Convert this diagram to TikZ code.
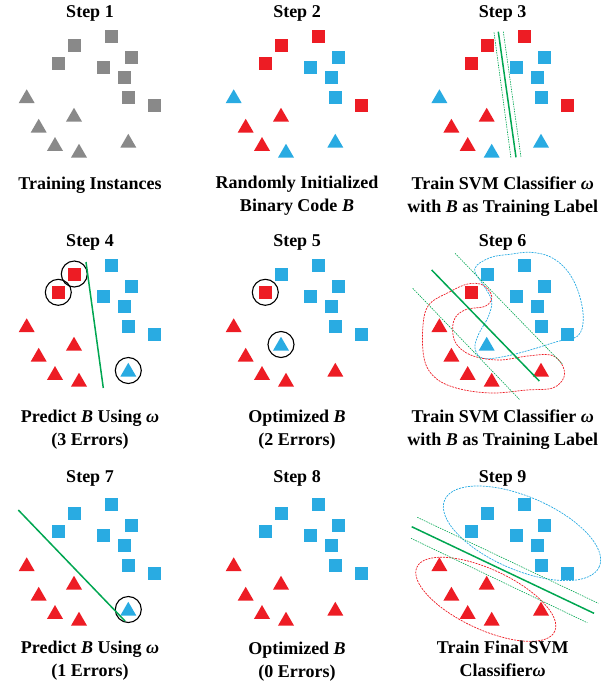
\documentclass[tikz,border=0pt]{standalone}
\usepackage{fontspec}
\setmainfont{Liberation Serif}
\usetikzlibrary{shapes.geometric}
\definecolor{ptred}{RGB}{237,28,36}
\definecolor{ptblue}{RGB}{41,171,226}
\definecolor{ptgray}{RGB}{137,137,137}
\definecolor{svmgreen}{RGB}{0,166,81}
\tikzset{>=latex}
\tikzstyle{sq}=[rectangle,minimum size=13pt,inner sep=0pt]
\tikzstyle{tri}=[regular polygon,regular polygon sides=3,minimum size=18.5pt,inner sep=0pt]
\tikzstyle{errc}=[circle,draw=black,line width=1.1pt,minimum size=26pt,inner sep=0pt]
\tikzstyle{stepname}=[anchor=base,font=\bfseries\fontsize{18}{23}\selectfont]
% base anchor of a two-line caption sits on its last line
\tikzstyle{capt}=[anchor=base,align=center,font=\bfseries\fontsize{18}{23}\selectfont]
\tikzstyle{svm}=[draw=svmgreen,line width=1.5pt]
\tikzstyle{svmmargin}=[draw=svmgreen,line width=0.6pt,dash pattern=on 1.5pt off 1pt]
\tikzstyle{blob}=[line width=0.7pt,dash pattern=on 2pt off 1pt]

\begin{document}
\begin{tikzpicture}[x=1pt,y=-1pt]
	\useasboundingbox (0,0) rectangle (616,683);

	% step 1
	\begin{scope}[shift={(0,0)},name prefix=p1-]
		\node[stepname] (title) at (90,17.3) {Step 1};
		\foreach \n/\x/\y/\c in {s1/74.3/45/ptgray, s2/111.3/36/ptgray, s3/58.3/63.3/ptgray, s4/103.3/67.3/ptgray,
			s5/131.3/57.3/ptgray, s6/124.3/77.3/ptgray, s7/128.3/97.3/ptgray, s8/154.3/105.3/ptgray}
			\node[sq,fill=\c] (\n) at (\x,\y) {};
		\foreach \n/\x/\y/\c in {t1/26.7/98.5/ptgray, t2/74/117/ptgray, t3/38.7/128/ptgray,
			t4/55/146.3/ptgray, t5/79/153/ptgray, t6/128.3/143/ptgray}
			\node[tri,fill=\c] (\n) at (\x,\y) {};
		\node[capt] (caption) at (90,189) {Training Instances};
	\end{scope}

	% step 2
	\begin{scope}[shift={(207,0)},name prefix=p2-]
		\node[stepname] (title) at (90,17.3) {Step 2};
		\foreach \n/\x/\y/\c in {s1/74.3/45/ptred, s2/111.3/36/ptred, s3/58.3/63.3/ptred, s4/103.3/67.3/ptblue,
			s5/131.3/57.3/ptblue, s6/124.3/77.3/ptblue, s7/128.3/97.3/ptblue, s8/154.3/105.3/ptred}
			\node[sq,fill=\c] (\n) at (\x,\y) {};
		\foreach \n/\x/\y/\c in {t1/26.7/98.5/ptblue, t2/74/117/ptred, t3/38.7/128/ptred,
			t4/55/146.3/ptred, t5/79/153/ptblue, t6/128.3/143/ptblue}
			\node[tri,fill=\c] (\n) at (\x,\y) {};
		\node[capt] (caption) at (90,211.5) {Randomly Initialized\\Binary Code \textit{B}};
	\end{scope}

	% step 3
	\begin{scope}[shift={(412.7,0)},name prefix=p3-]
		\node[stepname] (title) at (90,17.3) {Step 3};
		\foreach \n/\x/\y/\c in {s1/74.3/45/ptred, s2/111.3/36/ptred, s3/58.3/63.3/ptred, s4/103.3/67.3/ptblue,
			s5/131.3/57.3/ptblue, s6/124.3/77.3/ptblue, s7/128.3/97.3/ptblue, s8/154.3/105.3/ptred}
			\node[sq,fill=\c] (\n) at (\x,\y) {};
		\foreach \n/\x/\y/\c in {t1/26.7/98.5/ptblue, t2/74/117/ptred, t3/38.7/128/ptred,
			t4/55/146.3/ptred, t5/79/153/ptblue, t6/128.3/143/ptblue}
			\node[tri,fill=\c] (\n) at (\x,\y) {};
		\draw[svmmargin] (81.3,32.3) -- (98.3,158.3);
		\draw[svmmargin] (90.6,31.7) -- (108.3,157.3);
		\draw[svm] (85.6,31.7) -- (103.3,157.3);
		\node[capt] (caption) at (90,212) {Train SVM Classifier \textit{ω}\\with \textit{B} as Training Label};
	\end{scope}

	% step 4
	\begin{scope}[shift={(0,229)},name prefix=p4-]
		\node[stepname] (title) at (90,17.3) {Step 4};
		\foreach \n/\x/\y/\c in {s1/74.3/45/ptred, s2/111.3/36/ptblue, s3/58.3/63.3/ptred, s4/103.3/67.3/ptblue,
			s5/131.3/57.3/ptblue, s6/124.3/77.3/ptblue, s7/128.3/97.3/ptblue, s8/154.3/105.3/ptblue}
			\node[sq,fill=\c] (\n) at (\x,\y) {};
		\foreach \n/\x/\y/\c in {t1/26.7/98.5/ptred, t2/74/117/ptred, t3/38.7/128/ptred,
			t4/55/146.3/ptred, t5/79/153/ptred, t6/128.3/143/ptblue}
			\node[tri,fill=\c] (\n) at (\x,\y) {};
		\node[errc] (e1) at (s1) {};
		\node[errc] (e2) at (s3) {};
		\node[errc] (e3) at ([yshift=1.5pt]t6) {};
		\draw[svm] (86,33) -- (103.3,159);
		\node[capt] (caption) at (90,216) {Predict \textit{B} Using \textit{ω}\\(3 Errors)};
	\end{scope}

	% step 5
	\begin{scope}[shift={(207,229)},name prefix=p5-]
		\node[stepname] (title) at (90,17.3) {Step 5};
		\foreach \n/\x/\y/\c in {s1/74.3/45/ptblue, s2/111.3/36/ptblue, s3/58.3/63.3/ptred, s4/103.3/67.3/ptblue,
			s5/131.3/57.3/ptblue, s6/124.3/77.3/ptblue, s7/128.3/97.3/ptblue, s8/154.3/105.3/ptblue}
			\node[sq,fill=\c] (\n) at (\x,\y) {};
		\foreach \n/\x/\y/\c in {t1/26.7/98.5/ptred, t2/74/117/ptblue, t3/38.7/128/ptred,
			t4/55/146.3/ptred, t5/79/153/ptred, t6/128.3/143/ptred}
			\node[tri,fill=\c] (\n) at (\x,\y) {};
		\node[errc] (e1) at (s3) {};
		\node[errc] (e2) at ([yshift=1.5pt]t2) {};
		\node[capt] (caption) at (90,216) {Optimized \textit{B}\\(2 Errors)};
	\end{scope}

	% step 6
	\begin{scope}[shift={(412.7,229)},name prefix=p6-]
		\node[stepname] (title) at (90,17.3) {Step 6};
		\foreach \n/\x/\y/\c in {s1/74.3/45/ptblue, s2/111.3/36/ptblue, s3/58.3/63.3/ptred, s4/103.3/67.3/ptblue,
			s5/131.3/57.3/ptblue, s6/124.3/77.3/ptblue, s7/128.3/97.3/ptblue, s8/154.3/105.3/ptblue}
			\node[sq,fill=\c] (\n) at (\x,\y) {};
		\foreach \n/\x/\y/\c in {t1/26.7/98.5/ptred, t2/74/117/ptblue, t3/38.7/128/ptred,
			t4/55/146.3/ptred, t5/79/153/ptred, t6/128.3/143/ptred}
			\node[tri,fill=\c] (\n) at (\x,\y) {};
		\draw[blob,draw=ptblue] plot[smooth cycle,tension=0.6] coordinates {(62,40) (77.3,28.7) (97.3,25.3) (117.3,23.3)
			(137.3,27.7) (154,41) (165.6,62.7) (170.6,89.3) (165,107) (144,112.7) (117.3,121) (90.6,127.7)
			(70,129.3) (62.3,119.3) (66,105) (75.6,87.7) (79,72) (72,58)};
		\draw[blob,draw=ptred] plot[smooth cycle,tension=0.6] coordinates {(16,76) (37.3,62.7) (55,55) (70,56)
			(79,67) (73,77) (52,81) (41,92) (42.3,112.7) (58,126) (85.6,131) (115,127) (138,126) (149,135)
			(151.3,148) (140,159) (114,161) (80,164) (47.3,160) (24,150) (12,132) (10,100)};
		\draw[svmmargin] (42.3,24.3) -- (150,135.3);
		\draw[svmmargin] (0,59.3) -- (107.3,171);
		\draw[svm] (19,41) -- (126.6,152);
		\node[capt] (caption) at (90,216) {Train SVM Classifier \textit{ω}\\with \textit{B} as Training Label};
	\end{scope}

	% step 7
	\begin{scope}[shift={(0,468)},name prefix=p7-]
		\node[stepname] (title) at (90,14.7) {Step 7};
		\foreach \n/\x/\y/\c in {s1/74.3/45/ptblue, s2/111.3/36/ptblue, s3/58.3/63.3/ptblue, s4/103.3/67.3/ptblue,
			s5/131.3/57.3/ptblue, s6/124.3/77.3/ptblue, s7/128.3/97.3/ptblue, s8/154.3/105.3/ptblue}
			\node[sq,fill=\c] (\n) at (\x,\y) {};
		\foreach \n/\x/\y/\c in {t1/26.7/98.5/ptred, t2/74/117/ptred, t3/38.7/128/ptred,
			t4/55/146.3/ptred, t5/79/153/ptred, t6/128.3/143/ptblue}
			\node[tri,fill=\c] (\n) at (\x,\y) {};
		\node[errc] (e1) at ([yshift=1.5pt]t6) {};
		\draw[svm] (18.3,42) -- (125,153);
		\node[capt] (caption) at (90,208.5) {Predict \textit{B} Using \textit{ω}\\(1 Errors)};
	\end{scope}

	% step 8
	\begin{scope}[shift={(207,468)},name prefix=p8-]
		\node[stepname] (title) at (90,14.7) {Step 8};
		\foreach \n/\x/\y/\c in {s1/74.3/45/ptblue, s2/111.3/36/ptblue, s3/58.3/63.3/ptblue, s4/103.3/67.3/ptblue,
			s5/131.3/57.3/ptblue, s6/124.3/77.3/ptblue, s7/128.3/97.3/ptblue, s8/154.3/105.3/ptblue}
			\node[sq,fill=\c] (\n) at (\x,\y) {};
		\foreach \n/\x/\y/\c in {t1/26.7/98.5/ptred, t2/74/117/ptred, t3/38.7/128/ptred,
			t4/55/146.3/ptred, t5/79/153/ptred, t6/128.3/143/ptred}
			\node[tri,fill=\c] (\n) at (\x,\y) {};
		\node[capt] (caption) at (90,209) {Optimized \textit{B}\\(0 Errors)};
	\end{scope}

	% step 9
	\begin{scope}[shift={(412.7,468)},name prefix=p9-]
		\node[stepname] (title) at (90,14.7) {Step 9};
		\foreach \n/\x/\y/\c in {s1/74.3/45/ptblue, s2/111.3/36/ptblue, s3/58.3/63.3/ptblue, s4/103.3/67.3/ptblue,
			s5/131.3/57.3/ptblue, s6/124.3/77.3/ptblue, s7/128.3/97.3/ptblue, s8/154.3/105.3/ptblue}
			\node[sq,fill=\c] (\n) at (\x,\y) {};
		\foreach \n/\x/\y/\c in {t1/26.7/98.5/ptred, t2/74/117/ptred, t3/38.7/128/ptred,
			t4/55/146.3/ptred, t5/79/153/ptred, t6/128.3/143/ptred}
			\node[tri,fill=\c] (\n) at (\x,\y) {};
		\draw[blob,draw=ptblue,rotate around={-23.3:(109.3,65.3)}] (109.3,65.3) ellipse (84.2 and 36.6);
		\draw[blob,draw=ptred,rotate around={-25:(73.1,131.3)}] (73.1,131.3) ellipse (76 and 30);
		\draw[svmmargin] (4.6,49.3) -- (185.6,135.3);
		\draw[svmmargin] (-1.7,70.3) -- (174.6,154.7);
		\draw[svm] (-1,58.7) -- (181.3,145.3);
		\node[capt] (caption) at (90,208.5) {Train Final SVM\\Classifier\textit{ω}};
	\end{scope}
\end{tikzpicture}
\end{document}
